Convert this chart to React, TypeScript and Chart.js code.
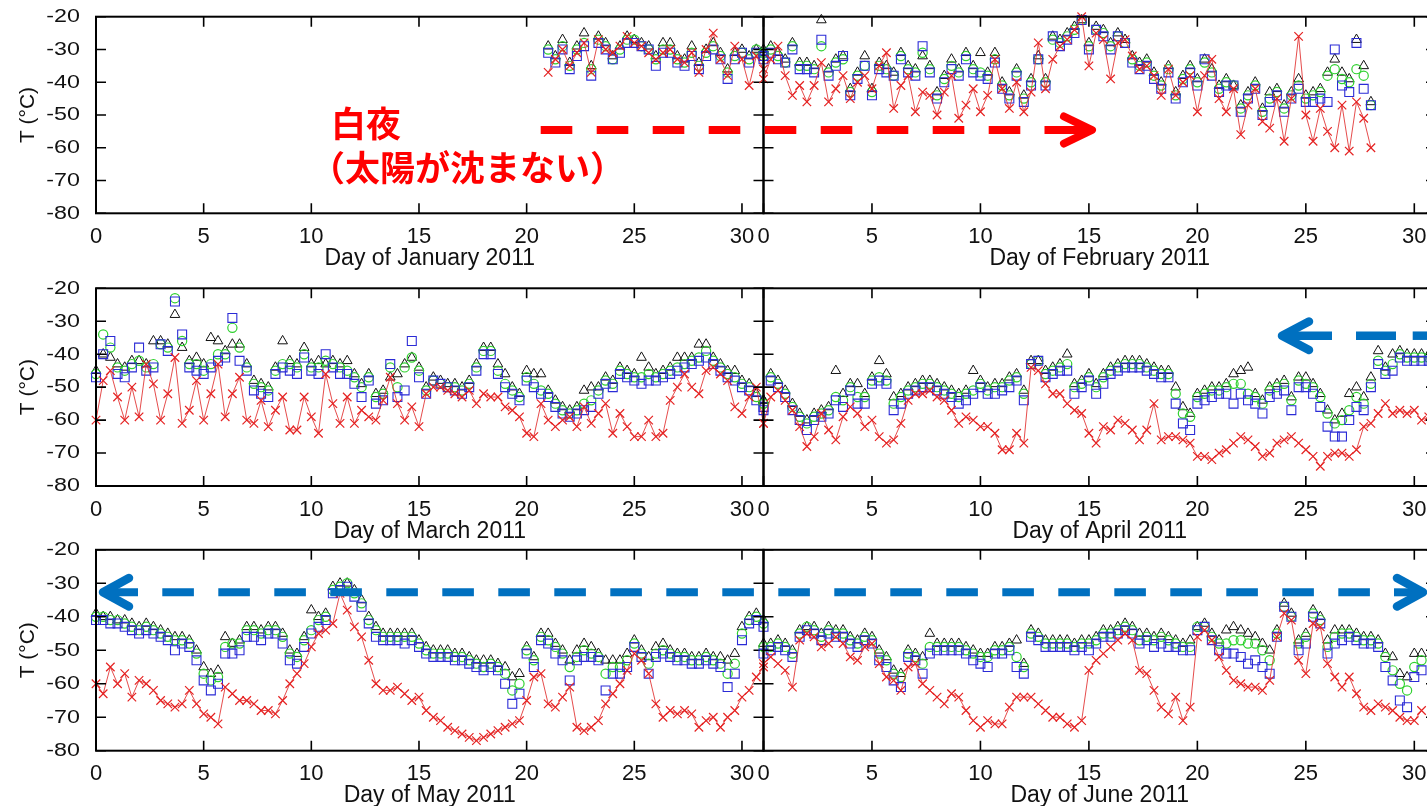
import React, { useEffect, useRef } from "react";
import { Chart, registerables } from "chart.js";

Chart.register(...registerables);

// Axis ticks
const X_TICKS = [0, 5, 10, 15, 20, 25, 30];
const Y_TICKS = [-20, -30, -40, -50, -60, -70, -80];
const SAMPLES_PER_DAY = 3;

// January 2011 (readings begin on day 21)
const JAN_START = 21;
const JAN_TRI = [-29,-32,-27,-34,-29,-25,-35,-26,-28,-32,-29,-26,-27,-28,-29,-32,-28,-28,-32,-33,-29,-34,-30,-28,-31,-36,-31,-30,-32,-30,-31];
const JAN_CIRC = [-30,-33,-29,-35,-30,-28,-36,-27,-29,-33,-30,-27,-27,-29,-30,-33,-30,-30,-33,-34,-31,-35,-31,-29,-32,-37,-32,-31,-33,-30,-32];
const JAN_SQ = [-31,-34,-30,-36,-32,-29,-38,-28,-30,-33,-31,-28,-28,-29,-30,-35,-31,-31,-34,-35,-32,-36,-32,-30,-33,-39,-33,-31,-34,-31,-33];
const JAN_X = [-37,-33,-30,-35,-31,-28,-37,-27,-30,-31,-29,-26,-28,-29,-31,-33,-31,-30,-33,-34,-31,-37,-30,-25,-33,-38,-29,-33,-41,-32,-36];

// February 2011
const FEB_TRI = [-30,-29,-31,-33,-28,-34,-34,-35,-21,-36,-33,-32,-42,-37,-32,-42,-34,-35,-37,-31,-35,-36,-32,-35,-43,-38,-33,-36,-31,-35,-31,-37,-31,-40,-43,-36,-44,-39,-32,-39,-26,-27,-25,-23,-21,-28,-23,-24,-28,-25,-27,-32,-34,-33,-37,-40,-35,-43,-38,-35,-39,-33,-36,-41,-39,-41,-47,-43,-40,-48,-43,-42,-47,-43,-39,-44,-43,-42,-37,-33,-37,-39,-27,-35,-46];
const FEB_CIRC = [-31,-30,-32,-34,-29,-35,-35,-36,-29,-37,-34,-33,-43,-38,-35,-43,-35,-36,-38,-32,-36,-37,-31,-36,-44,-39,-35,-37,-32,-36,-37,-38,-33,-41,-44,-37,-45,-40,-33,-40,-27,-28,-26,-24,-21,-29,-24,-25,-29,-26,-28,-33,-35,-34,-38,-41,-36,-44,-39,-36,-40,-34,-37,-42,-40,-41,-48,-44,-41,-49,-45,-43,-48,-44,-41,-45,-44,-43,-38,-36,-39,-40,-36,-38,-47];
const FEB_SQ = [-32,-31,-33,-34,-30,-36,-36,-37,-27,-38,-35,-32,-44,-39,-35,-44,-36,-37,-38,-33,-37,-38,-29,-37,-45,-40,-36,-38,-33,-37,-38,-39,-34,-42,-45,-38,-46,-41,-33,-41,-26,-29,-27,-25,-21,-30,-24,-26,-30,-26,-28,-34,-36,-35,-39,-42,-37,-45,-40,-37,-41,-33,-38,-43,-41,-41,-49,-45,-42,-50,-46,-44,-49,-45,-42,-46,-46,-45,-46,-30,-41,-43,-28,-42,-47];
const FEB_X = [-39,-33,-29,-38,-44,-41,-46,-41,-34,-46,-42,-38,-45,-40,-38,-42,-35,-31,-48,-41,-38,-49,-43,-44,-50,-43,-38,-51,-47,-42,-49,-44,-33,-42,-48,-40,-49,-43,-28,-42,-33,-29,-27,-24,-20,-35,-25,-27,-39,-28,-27,-32,-36,-35,-38,-44,-36,-44,-40,-38,-49,-38,-33,-45,-49,-42,-56,-47,-42,-52,-54,-45,-58,-45,-26,-50,-58,-48,-55,-60,-47,-61,-46,-51,-60];

// March 2011
const MAR_TRI = [-45,-40,-41,-43,-44,-42,-42,-43,-36,-36,-37,-28,-38,-42,-41,-43,-35,-36,-39,-37,-37,-43,-48,-49,-50,-44,-36,-42,-43,-38,-43,-42,-43,-42,-43,-42,-46,-49,-46,-52,-51,-47,-46,-43,-41,-44,-50,-47,-48,-49,-49,-50,-48,-43,-38,-38,-43,-46,-50,-52,-45,-46,-46,-51,-54,-56,-57,-56,-51,-50,-50,-47,-48,-44,-45,-46,-41,-44,-46,-45,-44,-41,-41,-41,-37,-37,-41,-43,-45,-45,-48,-49,-52,-54];
const MAR_CIRC = [-46,-34,-38,-44,-45,-43,-42,-44,-43,-37,-38,-23,-36,-43,-43,-45,-43,-40,-40,-32,-38,-44,-49,-50,-51,-45,-43,-43,-44,-40,-44,-44,-42,-43,-44,-45,-47,-50,-47,-53,-52,-44,-50,-44,-41,-45,-51,-48,-49,-50,-50,-51,-49,-44,-39,-39,-45,-49,-51,-53,-47,-49,-51,-52,-55,-57,-58,-57,-55,-54,-51,-48,-49,-45,-46,-47,-47,-46,-47,-46,-45,-44,-43,-42,-41,-39,-42,-44,-46,-47,-49,-50,-53,-55];
const MAR_SQ = [-47,-40,-36,-46,-47,-44,-38,-45,-44,-37,-39,-24,-34,-44,-45,-46,-44,-42,-41,-29,-42,-45,-51,-52,-53,-46,-44,-45,-46,-41,-45,-46,-40,-44,-46,-46,-49,-53,-48,-55,-54,-43,-53,-51,-36,-47,-52,-48,-49,-50,-51,-52,-50,-45,-40,-40,-46,-50,-52,-54,-48,-50,-52,-53,-56,-58,-59,-58,-57,-56,-52,-49,-50,-46,-47,-48,-49,-48,-48,-47,-46,-45,-44,-43,-42,-41,-43,-45,-47,-48,-50,-51,-54,-56];
const MAR_X = [-60,-48,-45,-53,-60,-50,-59,-43,-49,-60,-52,-41,-61,-57,-48,-60,-52,-43,-59,-52,-47,-60,-61,-54,-62,-57,-53,-63,-63,-53,-59,-64,-46,-55,-61,-53,-61,-57,-59,-60,-54,-47,-55,-60,-56,-62,-52,-50,-50,-51,-52,-53,-51,-55,-52,-53,-53,-56,-57,-59,-64,-65,-55,-60,-62,-60,-59,-62,-56,-61,-58,-55,-64,-58,-62,-65,-65,-60,-65,-64,-54,-50,-46,-50,-52,-45,-44,-46,-48,-56,-58,-53,-50,-61];

// April 2011
const APR_TRI = [-54,-46,-48,-51,-55,-58,-60,-58,-57,-56,-45,-52,-49,-49,-52,-47,-42,-46,-53,-52,-50,-49,-48,-48,-49,-50,-51,-52,-51,-45,-48,-50,-49,-49,-47,-46,-51,-42,-42,-45,-44,-43,-40,-49,-48,-46,-49,-46,-44,-43,-42,-42,-42,-43,-44,-45,-45,-50,-56,-58,-52,-51,-50,-50,-49,-46,-45,-44,-52,-54,-50,-49,-48,-53,-47,-47,-49,-52,-57,-60,-58,-52,-50,-53,-47,-39,-44,-40,-39,-40,-40,-40,-40];
const APR_CIRC = [-55,-47,-49,-52,-56,-59,-61,-59,-58,-57,-53,-54,-50,-53,-53,-48,-47,-48,-55,-53,-51,-50,-49,-49,-50,-51,-52,-53,-52,-51,-49,-51,-50,-50,-48,-47,-52,-43,-42,-46,-45,-44,-43,-50,-49,-47,-50,-47,-45,-44,-43,-43,-43,-44,-45,-46,-46,-52,-58,-59,-53,-52,-51,-51,-50,-49,-49,-52,-53,-55,-51,-50,-49,-54,-48,-49,-50,-53,-58,-61,-60,-57,-53,-55,-49,-42,-45,-43,-40,-41,-41,-41,-41];
const APR_SQ = [-57,-48,-50,-53,-57,-60,-63,-60,-59,-58,-54,-56,-51,-55,-55,-49,-48,-49,-57,-55,-52,-51,-50,-50,-51,-52,-53,-55,-54,-52,-50,-52,-52,-51,-50,-48,-54,-43,-42,-47,-46,-45,-45,-52,-50,-48,-52,-49,-46,-45,-44,-44,-44,-45,-46,-47,-47,-55,-61,-63,-55,-54,-53,-52,-52,-55,-52,-54,-55,-58,-53,-52,-51,-57,-50,-50,-52,-56,-62,-65,-65,-60,-56,-57,-50,-43,-46,-45,-41,-42,-42,-42,-42];
const APR_X = [-61,-53,-51,-54,-57,-62,-68,-65,-58,-63,-66,-59,-56,-58,-62,-60,-65,-67,-66,-61,-54,-52,-52,-51,-53,-54,-57,-61,-59,-60,-62,-62,-64,-69,-69,-64,-67,-44,-45,-49,-52,-52,-55,-57,-58,-64,-67,-62,-63,-60,-61,-63,-66,-63,-55,-66,-65,-65,-66,-67,-71,-71,-72,-70,-69,-67,-65,-66,-68,-71,-70,-67,-66,-65,-67,-69,-71,-74,-71,-70,-70,-71,-69,-62,-61,-58,-55,-58,-57,-58,-57,-60,-59];

// May 2011
const MAY_TRI = [-39,-40,-40,-41,-41,-42,-43,-42,-43,-44,-45,-46,-46,-47,-50,-55,-57,-56,-46,-48,-47,-43,-43,-44,-43,-43,-45,-50,-51,-46,-38,-40,-39,-31,-30,-30,-32,-35,-40,-43,-45,-45,-45,-45,-45,-47,-49,-50,-50,-50,-51,-51,-52,-53,-53,-53,-54,-55,-58,-57,-49,-52,-45,-45,-48,-50,-53,-50,-48,-49,-51,-53,-53,-53,-51,-47,-50,-52,-49,-48,-50,-51,-51,-52,-52,-51,-52,-52,-53,-51,-43,-40,-39,-41];
const MAY_CIRC = [-40,-40,-41,-41,-42,-43,-44,-43,-44,-45,-46,-47,-47,-48,-51,-57,-59,-58,-49,-48,-48,-44,-44,-45,-44,-44,-46,-51,-52,-47,-44,-41,-40,-32,-31,-30,-33,-36,-41,-44,-46,-46,-46,-46,-46,-48,-50,-51,-51,-51,-52,-52,-53,-54,-55,-54,-55,-57,-62,-60,-50,-53,-46,-47,-49,-51,-55,-52,-50,-51,-52,-57,-55,-55,-53,-48,-51,-54,-51,-50,-51,-52,-52,-53,-53,-52,-53,-54,-57,-54,-45,-41,-40,-42];
const MAY_SQ = [-41,-41,-42,-42,-43,-44,-45,-44,-45,-46,-47,-50,-48,-49,-53,-59,-62,-60,-51,-51,-50,-46,-46,-47,-45,-45,-48,-53,-54,-49,-45,-43,-41,-33,-32,-31,-34,-37,-42,-46,-47,-47,-47,-48,-47,-49,-51,-52,-52,-52,-53,-53,-54,-55,-56,-55,-56,-60,-66,-63,-51,-55,-47,-48,-51,-53,-59,-53,-52,-52,-53,-62,-57,-57,-55,-49,-52,-57,-52,-51,-52,-53,-53,-54,-54,-53,-54,-55,-61,-57,-47,-42,-41,-43];
const MAY_X = [-60,-63,-55,-60,-57,-64,-59,-60,-62,-65,-66,-67,-66,-62,-66,-69,-70,-72,-61,-63,-65,-65,-66,-68,-68,-69,-65,-60,-57,-54,-49,-45,-44,-42,-33,-38,-43,-46,-53,-60,-62,-62,-61,-63,-65,-64,-68,-70,-71,-73,-74,-75,-76,-77,-76,-75,-74,-73,-72,-71,-65,-58,-57,-66,-67,-64,-61,-73,-74,-73,-71,-66,-63,-60,-56,-51,-53,-57,-66,-70,-68,-69,-68,-69,-73,-71,-70,-73,-70,-68,-64,-62,-58,-55];

// June 2011
const JUN_TRI = [-48,-48,-47,-48,-50,-44,-43,-43,-45,-43,-44,-44,-46,-47,-45,-46,-50,-52,-56,-57,-50,-51,-52,-45,-48,-48,-48,-48,-49,-50,-51,-51,-49,-49,-48,-47,-54,-44,-45,-47,-47,-47,-47,-48,-47,-47,-46,-44,-44,-43,-42,-43,-45,-45,-46,-45,-46,-47,-48,-47,-43,-42,-45,-47,-44,-43,-44,-45,-46,-48,-50,-44,-36,-39,-47,-45,-38,-40,-47,-44,-44,-44,-45,-46,-46,-47,-51,-52,-57,-58,-51,-51];
const JUN_CIRC = [-49,-49,-48,-49,-51,-45,-43,-44,-46,-44,-45,-45,-47,-48,-46,-47,-51,-53,-57,-58,-51,-52,-54,-49,-49,-49,-49,-49,-50,-51,-52,-52,-50,-50,-49,-52,-55,-45,-46,-48,-48,-48,-48,-49,-48,-48,-47,-45,-45,-44,-43,-44,-47,-46,-47,-46,-47,-48,-49,-49,-43,-43,-46,-48,-48,-47,-47,-48,-48,-50,-53,-45,-37,-40,-48,-46,-39,-41,-49,-46,-45,-45,-46,-47,-47,-48,-52,-56,-60,-62,-55,-53];
const JUN_SQ = [-51,-50,-49,-50,-52,-46,-44,-45,-47,-45,-46,-46,-48,-49,-47,-48,-53,-55,-59,-61,-52,-53,-57,-51,-50,-50,-50,-50,-51,-53,-54,-55,-51,-51,-50,-55,-57,-46,-47,-49,-49,-49,-49,-50,-49,-50,-48,-46,-46,-45,-44,-45,-48,-47,-49,-48,-49,-49,-50,-50,-44,-43,-47,-50,-51,-51,-52,-54,-53,-55,-57,-46,-37,-40,-50,-48,-40,-42,-51,-48,-47,-46,-47,-48,-48,-49,-55,-59,-65,-67,-58,-56];
const JUN_X = [-54,-52,-54,-56,-61,-47,-45,-46,-49,-48,-46,-48,-52,-53,-49,-48,-54,-58,-59,-62,-55,-54,-60,-62,-64,-66,-63,-64,-68,-71,-73,-71,-72,-72,-67,-64,-64,-64,-66,-68,-70,-70,-72,-73,-71,-56,-53,-51,-49,-47,-45,-47,-56,-57,-62,-67,-69,-64,-71,-67,-46,-44,-47,-52,-56,-59,-60,-61,-61,-62,-59,-46,-39,-41,-53,-57,-42,-43,-54,-58,-61,-58,-63,-67,-68,-66,-67,-68,-70,-71,-71,-68];

const PANELS = [
  { title: "Day of January 2011", row: 0, col: 0, start: JAN_START, tri: JAN_TRI, circ: JAN_CIRC, sq: JAN_SQ, cross: JAN_X },
  { title: "Day of February 2011", row: 0, col: 1, start: 0, tri: FEB_TRI, circ: FEB_CIRC, sq: FEB_SQ, cross: FEB_X },
  { title: "Day of March 2011", row: 1, col: 0, start: 0, tri: MAR_TRI, circ: MAR_CIRC, sq: MAR_SQ, cross: MAR_X },
  { title: "Day of April 2011", row: 1, col: 1, start: 0, tri: APR_TRI, circ: APR_CIRC, sq: APR_SQ, cross: APR_X },
  { title: "Day of May 2011", row: 2, col: 0, start: 0, tri: MAY_TRI, circ: MAY_CIRC, sq: MAY_SQ, cross: MAY_X },
  { title: "Day of June 2011", row: 2, col: 1, start: 0, tri: JUN_TRI, circ: JUN_CIRC, sq: JUN_SQ, cross: JUN_X },
];

// Page layout of the six plot frames
const CANVAS_W = 1460;
const CANVAS_H = 830;
const XAXIS_H = 60;
const ROW_TOP = [16.7, 288.3, 549.8];
const ROW_BOTTOM = [213.3, 486, 750.7];
const COL_LEFT = [96, 763.5];
const COL_RIGHT = [763.5, 1436];

const SANS = "'Liberation Sans', Arial, Helvetica, sans-serif";

const framePlugin = {
  id: "frame",
  afterDatasetsDraw(chart: any, _args: any, opts: any) {
    const { ctx, chartArea: a, scales } = chart;
    const xs = scales.x;
    const ys = scales.y;
    ctx.save();
    ctx.strokeStyle = "#000";
    ctx.lineWidth = 2;
    ctx.strokeRect(a.left, a.top, a.right - a.left, a.bottom - a.top);
    ctx.lineWidth = 1.6;
    ctx.beginPath();
    const tl = 10;
    X_TICKS.forEach((v) => {
      const px = xs.getPixelForValue(v);
      ctx.moveTo(px, a.bottom);
      ctx.lineTo(px, a.bottom - tl);
      ctx.moveTo(px, a.top);
      ctx.lineTo(px, a.top + tl);
    });
    Y_TICKS.forEach((v) => {
      const py = ys.getPixelForValue(v);
      ctx.moveTo(a.left, py);
      ctx.lineTo(a.left + tl, py);
      ctx.moveTo(a.right, py);
      ctx.lineTo(a.right - tl, py);
    });
    ctx.stroke();

    if (opts && opts.yLabels) {
      ctx.fillStyle = "#111";
      ctx.textAlign = "right";
      ctx.textBaseline = "middle";
      ctx.font = `17.5px ${SANS}`;
      Y_TICKS.forEach((v) => {
        const py = ys.getPixelForValue(v);
        ctx.save();
        ctx.translate(a.left - 16, py + 0.5);
        ctx.scale(1.33, 1);
        ctx.fillText(String(v), 0, 0);
        ctx.restore();
      });
      ctx.save();
      ctx.translate(28, (a.top + a.bottom) / 2);
      ctx.rotate(-Math.PI / 2);
      ctx.textAlign = "center";
      ctx.font = `21px ${SANS}`;
      ctx.fillText("T (°C)", 0, 0);
      ctx.restore();
    }
    ctx.restore();
  },
};

function Panel({ p }: { p: any }) {
  const ref = useRef<HTMLCanvasElement>(null);
  useEffect(() => {
    const toPts = (arr: number[]) =>
      arr.map((y, i) => ({ x: p.start + i / SAMPLES_PER_DAY, y }));
    const left = COL_LEFT[p.col];
    const right = CANVAS_W - COL_RIGHT[p.col];
    const top = ROW_TOP[p.row];
    const bottom = CANVAS_H - ROW_BOTTOM[p.row] - XAXIS_H;
    const chart = new Chart(ref.current as HTMLCanvasElement, {
      type: "scatter",
      data: {
        datasets: [
          {
            data: toPts(p.cross),
            showLine: true,
            borderColor: "rgba(225,45,45,0.85)",
            borderWidth: 1,
            pointStyle: "crossRot",
            pointRadius: 6,
            pointBorderColor: "#e52222",
            pointBackgroundColor: "transparent",
            pointBorderWidth: 1.2,
            clip: 8,
          },
          {
            data: toPts(p.sq),
            pointStyle: "rect",
            pointRadius: 6.3,
            pointBorderColor: "#2b2bd6",
            pointBackgroundColor: "transparent",
            pointBorderWidth: 1.1,
            clip: 8,
          },
          {
            data: toPts(p.circ),
            pointStyle: "circle",
            pointRadius: 4.6,
            pointBorderColor: "#2fd12f",
            pointBackgroundColor: "transparent",
            pointBorderWidth: 1.2,
            clip: 8,
          },
          {
            data: toPts(p.tri),
            pointStyle: "triangle",
            pointRadius: 5.6,
            pointBorderColor: "#111",
            pointBackgroundColor: "transparent",
            pointBorderWidth: 1,
            clip: 8,
          },
        ],
      } as any,
      options: {
        animation: false,
        responsive: false,
        devicePixelRatio: 1,
        events: [],
        layout: { padding: { left, right, top, bottom } },
        plugins: {
          legend: { display: false },
          tooltip: { enabled: false },
          frame: { yLabels: p.col === 0 },
        } as any,
        scales: {
          x: {
            type: "linear",
            position: "bottom",
            min: 0,
            max: 31,
            afterBuildTicks: (s: any) => {
              s.ticks = X_TICKS.map((v) => ({ value: v }));
            },
            afterFit: (s: any) => {
              s.height = XAXIS_H;
            },
            grid: { display: false, drawTicks: false },
            border: { display: false },
            ticks: {
              padding: 10.5,
              autoSkip: false,
              maxRotation: 0,
              color: "#111",
              font: { family: SANS, size: 22 },
            },
            title: {
              display: true,
              text: p.title,
              color: "#111",
              font: { family: SANS, size: 23 },
              padding: { top: 0, bottom: 1 },
            },
          },
          y: { type: "linear", min: -80, max: -20, display: false },
        },
      } as any,
      plugins: [framePlugin],
    });
    return () => chart.destroy();
  }, [p]);
  return (
    <canvas
      ref={ref}
      width={CANVAS_W}
      height={CANVAS_H}
      style={{ position: "absolute", left: 0, top: 0 }}
    />
  );
}

const RED = "#ff0000";
const BLUE = "#0070c0";

function Arrows() {
  const dash = "31.6 24.4";
  return (
    <svg
      width={1427}
      height={806}
      style={{ position: "absolute", left: 0, top: 0, pointerEvents: "none" }}
    >
      {/* polar day, pointing right */}
      <line x1={540.7} y1={130} x2={1076.3} y2={130} stroke={RED} strokeWidth={8} strokeDasharray={dash} />
      <line x1={1044.7} y1={130} x2={1090} y2={130} stroke={RED} strokeWidth={8} />
      <polyline points="1064,116.5 1092,130 1064,143.5" fill="none" stroke={RED} strokeWidth={8} strokeLinecap="round" strokeLinejoin="round" />

      {/* April, pointing left */}
      <polyline points="1309,321.5 1282,335.7 1309,350" fill="none" stroke={BLUE} strokeWidth={8.5} strokeLinecap="round" strokeLinejoin="round" />
      <line x1={1282} y1={335.7} x2={1332} y2={335.7} stroke={BLUE} strokeWidth={8.5} />
      <line x1={1356} y1={335.7} x2={1396} y2={335.7} stroke={BLUE} strokeWidth={8.5} />
      <line x1={1412.7} y1={335.7} x2={1440} y2={335.7} stroke={BLUE} strokeWidth={8.5} />

      {/* May - June, both directions */}
      <polyline points="129,578 103,592.3 129,606.5" fill="none" stroke={BLUE} strokeWidth={8.5} strokeLinecap="round" strokeLinejoin="round" />
      <line x1={103} y1={592.3} x2={138} y2={592.3} stroke={BLUE} strokeWidth={8} />
      <line x1={162.3} y1={592.3} x2={1370} y2={592.3} stroke={BLUE} strokeWidth={8} strokeDasharray={dash} />
      <line x1={1394} y1={592.3} x2={1422} y2={592.3} stroke={BLUE} strokeWidth={8} />
      <polyline points="1397,578 1423,592.3 1397,606.5" fill="none" stroke={BLUE} strokeWidth={8.5} strokeLinecap="round" strokeLinejoin="round" />
    </svg>
  );
}

const NOTE_STYLE: React.CSSProperties = {
  position: "absolute",
  color: RED,
  fontFamily: "'Noto Sans CJK JP', sans-serif",
  fontWeight: 700,
  fontSize: 35,
  lineHeight: "35px",
  whiteSpace: "nowrap",
};

export default function App() {
  return (
    <div
      style={{
        position: "fixed",
        left: 0,
        top: 0,
        width: 1427,
        height: 806,
        overflow: "hidden",
        background: "#fff",
      }}
    >
      {PANELS.map((p) => (
        <Panel key={p.title} p={p} />
      ))}
      <Arrows />
      <div style={{ ...NOTE_STYLE, left: 331, top: 103.5 }}>白夜</div>
      <div style={{ ...NOTE_STYLE, left: 310, top: 147.5 }}>（太陽が沈まない）</div>
    </div>
  );
}
